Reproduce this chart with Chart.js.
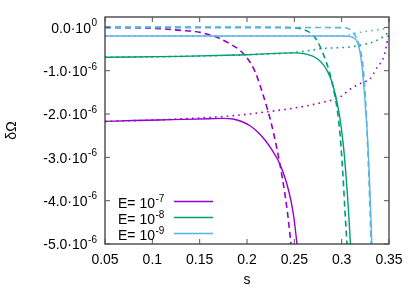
<!DOCTYPE html>
<html><head><meta charset="utf-8">
<script src="https://cdn.jsdelivr.net/npm/chart.js@4.4.1/dist/chart.umd.min.js"></script>
<style>html,body{margin:0;padding:0;background:#fff;}canvas{display:block;}</style>
</head><body>
<canvas id="c" width="415" height="291"></canvas>
<script>
// ---- tick labels ----
const xTicks = [0.05, 0.1, 0.15, 0.2, 0.25, 0.3, 0.35];
const xTickLabels = ['0.05', '0.1', '0.15', '0.2', '0.25', '0.3', '0.35'];
const yTicks = [0, -1e-6, -2e-6, -3e-6, -4e-6, -5e-6];
const yTickMantissa = ['0.0\u00b710', '-1.0\u00b710', '-2.0\u00b710', '-3.0\u00b710', '-4.0\u00b710', '-5.0\u00b710'];
const yTickExponent = ['0', '-6', '-6', '-6', '-6', '-6'];
const legendBase = ['E= 10', 'E= 10', 'E= 10'];
const legendExponent = ['-7', '-8', '-9'];

// ---- E = 1e-7 (purple) ----
const sE7solid  = [0.05, 0.08, 0.12, 0.16, 0.1745, 0.1852, 0.1937, 0.2032, 0.2116, 0.219, 0.2264, 0.2327, 0.238, 0.2422, 0.2465, 0.2496, 0.2528];
const vE7solid  = [-2.17e-6, -2.15e-6, -2.13e-6, -2.11e-6, -2.10e-6, -2.115e-6, -2.166e-6, -2.27e-6, -2.42e-6, -2.60e-6, -2.83e-6, -3.06e-6, -3.34e-6, -3.62e-6, -4.01e-6, -4.40e-6, -5.0e-6];
const sE7dash   = [0.05, 0.10, 0.1303, 0.1503, 0.1683, 0.182, 0.1926, 0.2011, 0.2084, 0.2158, 0.2222, 0.2264, 0.2317, 0.237, 0.2423, 0.2465];
const vE7dash   = [0, -0.02e-6, -0.069e-6, -0.115e-6, -0.23e-6, -0.38e-6, -0.53e-6, -0.737e-6, -1.014e-6, -1.475e-6, -1.935e-6, -2.281e-6, -2.811e-6, -3.433e-6, -4.194e-6, -5.0e-6];
const sE7dot    = [0.05, 0.10, 0.15, 0.18, 0.217, 0.256, 0.28, 0.298, 0.31, 0.322, 0.33, 0.338, 0.3437, 0.347, 0.349, 0.35];
const vE7dot    = [-2.17e-6, -2.14e-6, -2.09e-6, -2.05e-6, -1.96e-6, -1.84e-6, -1.73e-6, -1.61e-6, -1.41e-6, -1.27e-6, -1.19e-6, -0.9e-6, -0.73e-6, -0.45e-6, -0.22e-6, -0.1e-6];

// ---- E = 1e-8 (green) ----
const sE8solid  = [0.05, 0.13, 0.2, 0.2507, 0.2613, 0.2687, 0.275, 0.2803, 0.2845, 0.2887, 0.2919, 0.2951, 0.2982, 0.3003, 0.3025, 0.3046, 0.3067, 0.3093];
const vE8solid  = [-0.69e-6, -0.67e-6, -0.63e-6, -0.588e-6, -0.611e-6, -0.657e-6, -0.737e-6, -0.853e-6, -0.991e-6, -1.198e-6, -1.429e-6, -1.728e-6, -2.097e-6, -2.442e-6, -2.88e-6, -3.433e-6, -4.055e-6, -5.0e-6];
const sE8dash   = [0.05, 0.2, 0.2518, 0.2592, 0.2644, 0.2697, 0.2739, 0.2771, 0.2803, 0.2834, 0.2866, 0.2898, 0.2929, 0.2951, 0.2972, 0.2993, 0.3014, 0.3035, 0.3056];
const vE8dash   = [0, 0, -0.012e-6, -0.046e-6, -0.092e-6, -0.184e-6, -0.30e-6, -0.438e-6, -0.599e-6, -0.783e-6, -0.991e-6, -1.267e-6, -1.59e-6, -1.866e-6, -2.235e-6, -2.742e-6, -3.433e-6, -4.24e-6, -5.0e-6];
const sE8dot    = [0.05, 0.13, 0.2, 0.25, 0.28, 0.309, 0.326, 0.334, 0.3405, 0.3476, 0.35];
const vE8dot    = [-0.69e-6, -0.67e-6, -0.63e-6, -0.58e-6, -0.49e-6, -0.45e-6, -0.38e-6, -0.33e-6, -0.26e-6, -0.15e-6, -0.08e-6];

// ---- E = 1e-9 (light blue) ----
const sE9solid  = [0.05, 0.2, 0.3, 0.3065, 0.3105, 0.3135, 0.3162, 0.3183, 0.3199, 0.3215, 0.3225, 0.3236, 0.3246, 0.3257, 0.3268, 0.3278, 0.3289, 0.3299, 0.331, 0.3318];
const vE9solid  = [-0.2e-6, -0.2e-6, -0.2e-6, -0.205e-6, -0.22e-6, -0.255e-6, -0.323e-6, -0.461e-6, -0.645e-6, -0.899e-6, -1.129e-6, -1.406e-6, -1.682e-6, -2.005e-6, -2.35e-6, -2.742e-6, -3.249e-6, -3.825e-6, -4.424e-6, -5.0e-6];
const sE9dash   = [0.05, 0.2, 0.3035, 0.3077, 0.3109, 0.3141, 0.3172, 0.3194, 0.3215, 0.3225, 0.3236, 0.3246, 0.3257, 0.3268, 0.3278, 0.3289, 0.3299, 0.331];
const vE9dash   = [0, 0, -0.007e-6, -0.035e-6, -0.092e-6, -0.184e-6, -0.323e-6, -0.484e-6, -0.714e-6, -0.899e-6, -1.152e-6, -1.452e-6, -1.866e-6, -2.373e-6, -2.949e-6, -3.571e-6, -4.217e-6, -5.0e-6];
const sE9dot    = [0.05, 0.2, 0.3, 0.306, 0.312, 0.32, 0.333, 0.343, 0.35];
const vE9dot    = [-0.2e-6, -0.2e-6, -0.2e-6, -0.19e-6, -0.15e-6, -0.11e-6, -0.07e-6, -0.04e-6, -0.02e-6];

// ---- styles ----
const FONT = '"Liberation Sans", Arial, "DejaVu Sans", sans-serif';
const C7 = '#9400d3', C8 = '#009e73', C9 = '#56b4e9';

function pts(xs, ys) { return xs.map((x, i) => ({x: x, y: ys[i]})); }
function ds(xs, ys, color, kind) {
  return {
    data: pts(xs, ys),
    borderColor: color,
    backgroundColor: color,
    borderWidth: kind === 'solid' ? 1.4 : 1.6,
    borderDash: kind === 'dash' ? [6, 4] : (kind === 'dot' ? [1.6, 4.2] : []),
    showLine: true,
    pointRadius: 0,
    pointHoverRadius: 0,
    fill: false,
    cubicInterpolationMode: 'monotone',
    clip: 0
  };
}

const plotFrame = {
  id: 'plotFrame',
  afterDraw(chart) {
    const {ctx, chartArea: a, scales: {x, y}} = chart;
    ctx.save();
    ctx.strokeStyle = '#2a2a2a';
    ctx.lineWidth = 1.2;
    ctx.strokeRect(a.left, a.top, a.right - a.left, a.bottom - a.top);
    const tl = 5;
    ctx.beginPath();
    xTicks.forEach(v => {
      const px = x.getPixelForValue(v);
      ctx.moveTo(px, a.bottom); ctx.lineTo(px, a.bottom - tl);
      ctx.moveTo(px, a.top); ctx.lineTo(px, a.top + tl);
    });
    yTicks.forEach(v => {
      const py = y.getPixelForValue(v);
      ctx.moveTo(a.left, py); ctx.lineTo(a.left + tl, py);
      ctx.moveTo(a.right, py); ctx.lineTo(a.right - tl, py);
    });
    ctx.lineWidth = 1;
    ctx.strokeStyle = '#555';
    ctx.stroke();
    ctx.fillStyle = '#000';
    ctx.textBaseline = 'alphabetic';
    ctx.textAlign = 'left';
    const rightEdge = a.left - 8;
    yTicks.forEach((v, i) => {
      const py = y.getPixelForValue(v);
      ctx.font = '10px ' + FONT;
      const we = ctx.measureText(yTickExponent[i]).width;
      ctx.font = '14px ' + FONT;
      const wm = ctx.measureText(yTickMantissa[i]).width;
      const xe = rightEdge - we;
      const xm = xe - 0.5 - wm;
      ctx.fillText(yTickMantissa[i], xm, py + 5.3);
      ctx.font = '10px ' + FONT;
      ctx.fillText(yTickExponent[i], xe, py - 1.2);
    });
    const colors = [C7, C8, C9];
    const lx = a.left + 13, lineX0 = a.left + 69, lineX1 = a.left + 108;
    const rowY = [201.5, 217.5, 233.5];
    legendBase.forEach((t, i) => {
      const yy = rowY[i];
      ctx.font = '14px ' + FONT;
      ctx.fillStyle = '#000';
      ctx.fillText(t, lx, yy + 6.5);
      const w = ctx.measureText(t).width;
      ctx.font = '10px ' + FONT;
      ctx.fillText(legendExponent[i], lx + w + 0.5, yy);
      ctx.beginPath();
      ctx.strokeStyle = colors[i];
      ctx.lineWidth = 1.4;
      ctx.setLineDash([]);
      ctx.moveTo(lineX0, yy); ctx.lineTo(lineX1, yy);
      ctx.stroke();
    });
    ctx.restore();
  }
};

new Chart(document.getElementById('c'), {
  type: 'scatter',
  data: {
    datasets: [
      ds(sE9solid, vE9solid, C9, 'solid'),
      ds(sE9dash, vE9dash, C9, 'dash'),
      ds(sE9dot, vE9dot, C9, 'dot'),
      ds(sE8solid, vE8solid, C8, 'solid'),
      ds(sE8dash, vE8dash, C8, 'dash'),
      ds(sE8dot, vE8dot, C8, 'dot'),
      ds(sE7solid, vE7solid, C7, 'solid'),
      ds(sE7dash, vE7dash, C7, 'dash'),
      ds(sE7dot, vE7dot, C7, 'dot')
    ]
  },
  options: {
    responsive: false,
    animation: false,
    devicePixelRatio: 1,
    layout: {padding: {top: 17, right: 26, left: 0, bottom: 0}},
    plugins: {legend: {display: false}, tooltip: {enabled: false}},
    events: [],
    scales: {
      x: {
        type: 'linear', min: 0.05, max: 0.35,
        afterBuildTicks: axis => { axis.ticks = xTicks.map(v => ({value: v})); },
        afterFit: s => { s.height = 47; },
        grid: {display: false, drawTicks: false},
        border: {display: false},
        ticks: {
          padding: 8, color: '#000', maxRotation: 0, autoSkip: false,
          font: {family: FONT, size: 14},
          callback: (v, i) => xTickLabels[i]
        },
        title: {display: true, text: 's', color: '#000', font: {family: FONT, size: 14}, padding: {top: 0, bottom: 2.5}}
      },
      y: {
        type: 'linear', min: -5e-6, max: 0.24e-6,
        afterBuildTicks: axis => { axis.ticks = yTicks.map(v => ({value: v})); },
        afterFit: s => { s.width = 105; },
        grid: {display: false, drawTicks: false},
        border: {display: false},
        ticks: {display: false},
        title: {display: true, text: 'δΩ', color: '#000', font: {family: FONT, size: 14}, padding: {top: 3.6, bottom: 0}}
      }
    }
  },
  plugins: [plotFrame]
});
</script>
</body></html>
